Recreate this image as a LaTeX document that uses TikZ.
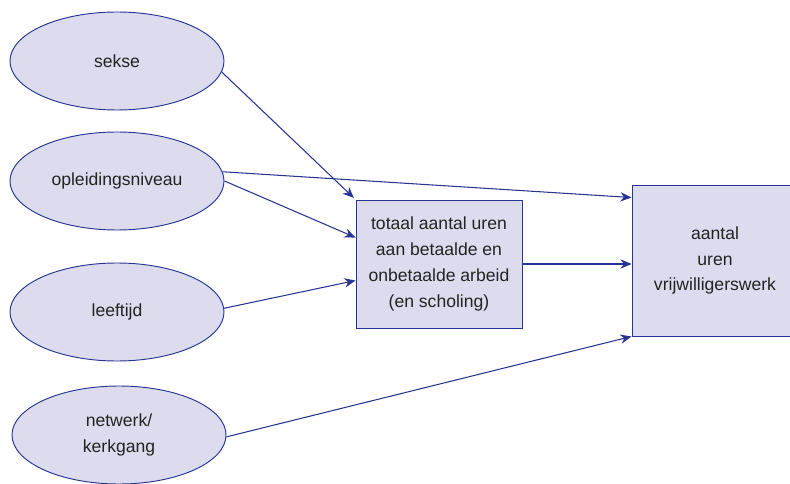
\documentclass[tikz,border=0pt]{standalone}
\usepackage{fontspec}
\setmainfont{Liberation Sans}
\usetikzlibrary{shapes.geometric}
\usetikzlibrary{arrows.meta}
\definecolor{vakblauw}{RGB}{40,52,145}
\definecolor{vakvul}{RGB}{220,220,238}
\definecolor{tekstgrijs}{RGB}{35,35,35}

\begin{document}
\begin{tikzpicture}[x=0.03cm,y=-0.03cm,
  kenmerk/.style={ellipse,draw=vakblauw,line width=0.8pt,fill=vakvul,minimum width=6.42cm,minimum height=2.94cm,inner sep=0pt,text=tekstgrijs,align=center,font=\fontsize{15}{22}\selectfont},
  uitkomst/.style={rectangle,draw=vakblauw,line width=0.8pt,fill=vakvul,minimum width=4.98cm,text=tekstgrijs,align=center,font=\fontsize{15}{22}\selectfont},
  pijl/.style={draw=vakblauw,line width=0.9pt,-{Stealth[length=9.5pt,width=8pt]}}]
\useasboundingbox (0,0) rectangle (790,484);
\node (sekse) at (117,61) [kenmerk] {sekse};
\node (opl) at (117,181) [kenmerk] {opleidingsniveau};
\node (leef) at (117,312) [kenmerk] {leeftijd};
\node (net) at (119,435) [kenmerk] {netwerk/\\kerkgang};
\node (mid) at (439,264) [uitkomst,minimum height=3.84cm] {totaal aantal uren\\aan betaalde en\\onbetaalde arbeid\\(en scholing)};
\node (vw) at (715,260.5) [uitkomst,minimum height=4.53cm] {aantal\\uren\\vrijwilligerswerk};
\draw[pijl,shorten >=2pt] (sekse.-6) -- (mid.north west);
\draw[pijl] (opl.5) -- ([yshift=-0.39cm]vw.north west);
\draw[pijl] (opl.east) -- ([yshift=-1.14cm]mid.north west);
\draw[pijl] (leef.2) -- ([yshift=-2.43cm]mid.north west);
\draw[pijl] (mid.east) -- (mid.east -| vw.west);
\draw[pijl] (net.-1) -- (vw.south west);
\end{tikzpicture}
\end{document}
